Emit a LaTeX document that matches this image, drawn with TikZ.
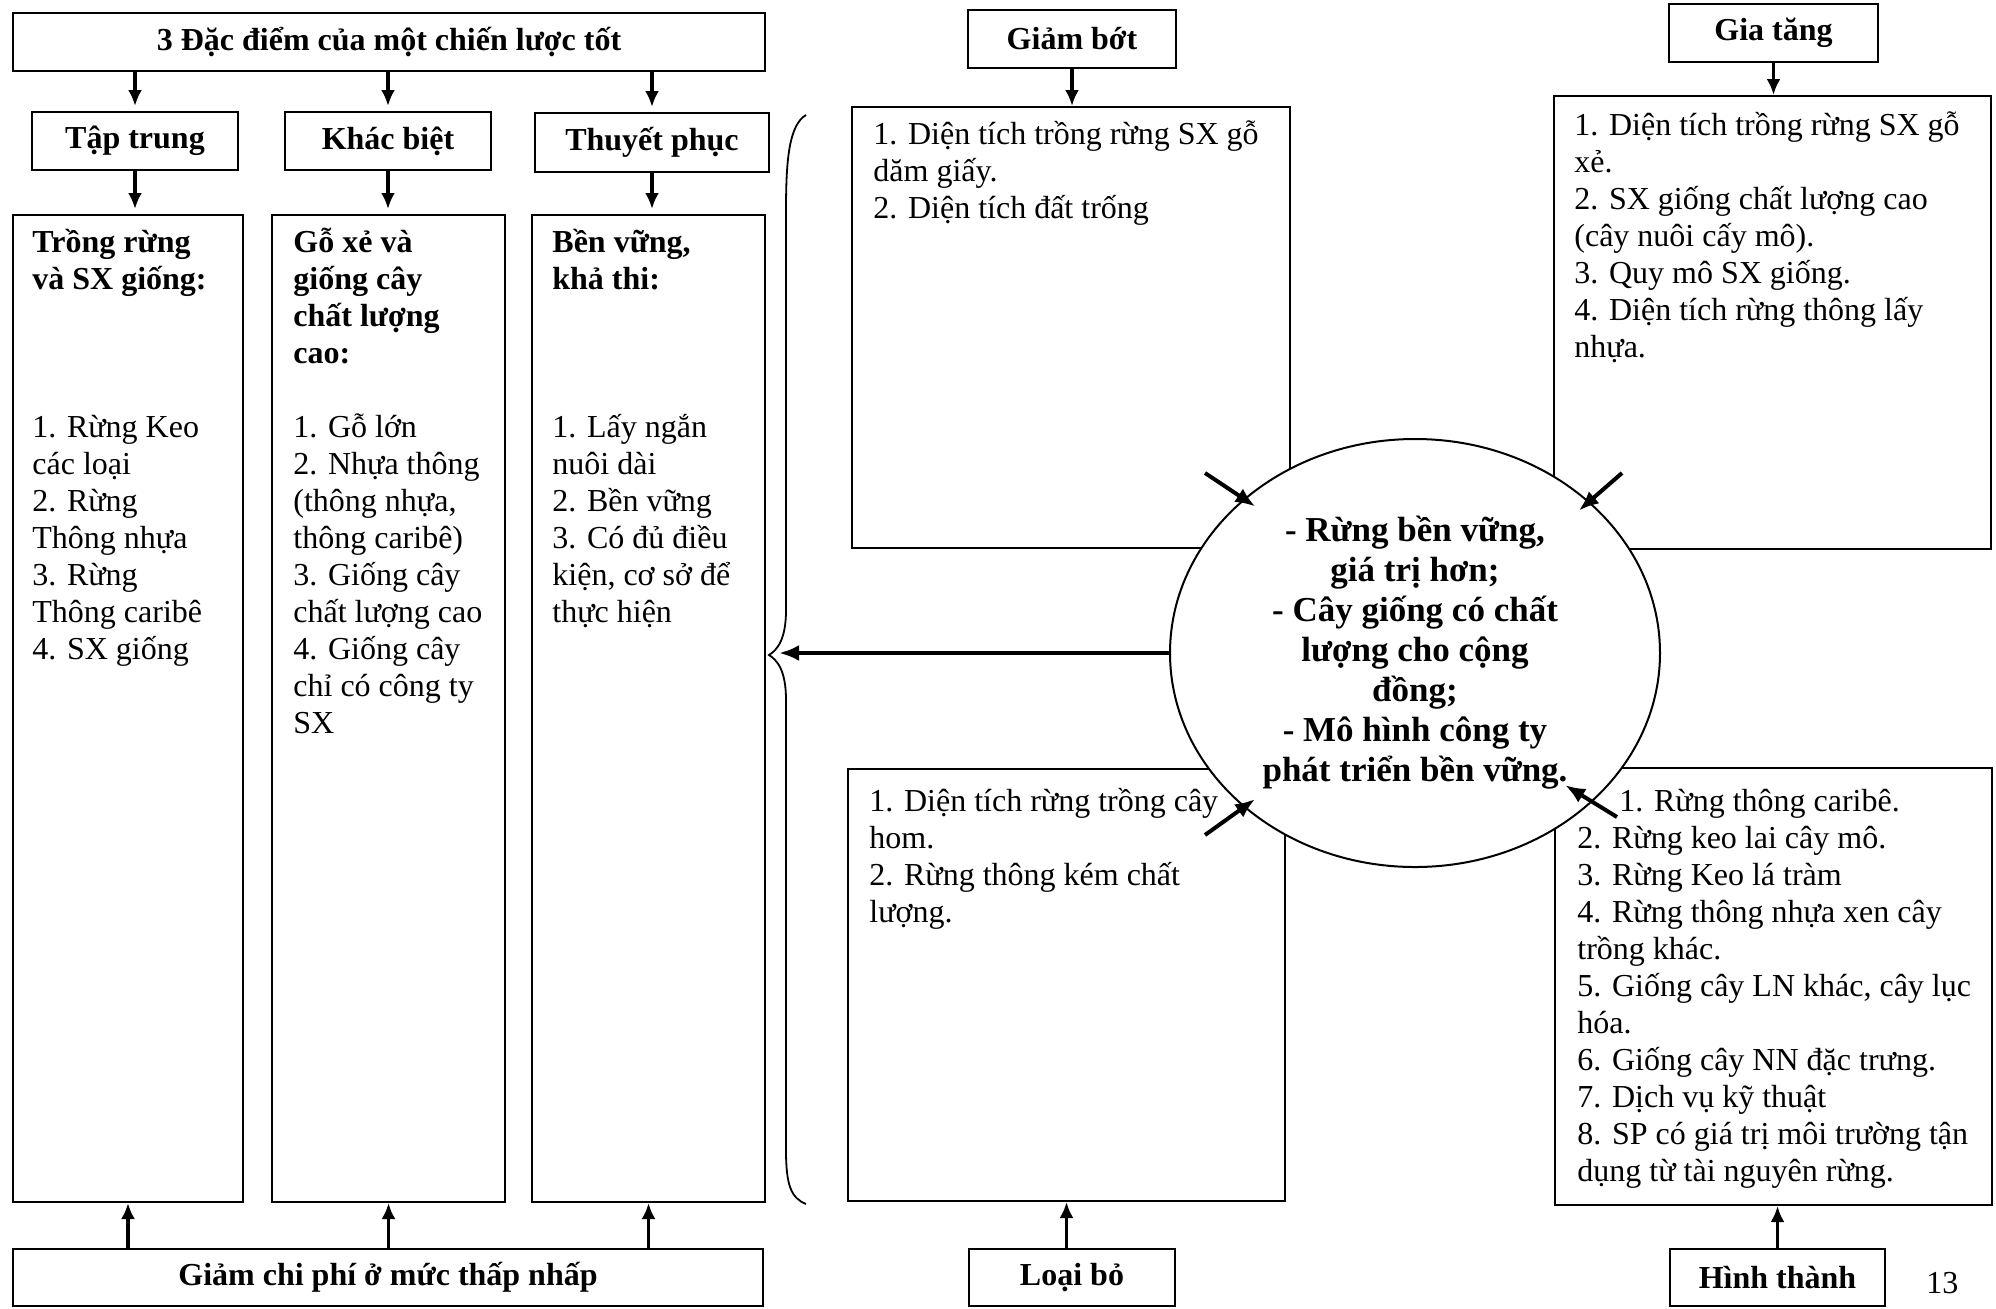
\documentclass[tikz,border=0pt]{standalone}
\usepackage{fontspec}
\setmainfont{Liberation Serif}
\usetikzlibrary{shapes.geometric,arrows.meta}
\newcommand\bodyf{\fontsize{16}{18.5}\selectfont}
\newcommand\ctrf{\fontsize{17.5}{20}\selectfont}
\begin{document}
\begin{tikzpicture}[x=0.5pt,y=-0.5pt,
  box/.style={draw, line width=1pt, inner sep=0pt},
  hd/.style={box, font=\bfseries\bodyf},
  txt/.style={anchor=north west, inner sep=0pt, align=left, font=\bodyf},
  btxt/.style={txt, font=\bfseries\bodyf},
  arr/.style={-{Latex[length=8pt,width=7pt]}, line width=1.7pt},
  bigarr/.style={-{Latex[length=10pt,width=8pt]}, line width=2pt}]
\fill[white] (0,0) rectangle (1996,1308);
\useasboundingbox (0,0) rectangle (1996,1308);

% ---- left part ----
\node[hd, minimum width=376pt, minimum height=29pt] (top) at (389,42) {3 Đặc điểm của một chiến lược tốt};
\node[hd, minimum width=103pt, minimum height=29pt] (h1) at (135,141) {Tập trung};
\node[hd, minimum width=103pt, minimum height=29pt] (h2) at (388,141) {Khác biệt};
\node[hd, minimum width=117pt, minimum height=29.5pt] (h3) at (652,142.5) {Thuyết phục};
\node[box, minimum width=115pt, minimum height=493.5pt] (c1) at (128,708.5) {};
\node[box, minimum width=116.5pt, minimum height=493.5pt] (c2) at (388.5,708.5) {};
\node[box, minimum width=116.5pt, minimum height=493.5pt] (c3) at (648.5,708.5) {};
\node[hd, minimum width=375pt, minimum height=28.5pt] (bot) at (388,1277.5) {Giảm chi phí ở mức thấp nhấp};

\node[btxt] (t1a) at (32,226) {\strut Trồng rừng\\và SX giống:};
\node[txt] (t1b) at (32,411) {\strut 1. Rừng Keo\\các loại\\2. Rừng\\Thông nhựa\\3. Rừng\\Thông caribê\\4. SX giống};
\node[btxt] (t2a) at (293,226) {\strut Gỗ xẻ và\\giống cây\\chất lượng\\cao:};
\node[txt] (t2b) at (293,411) {\strut 1. Gỗ lớn\\2. Nhựa thông\\(thông nhựa,\\thông caribê)\\3. Giống cây\\chất lượng cao\\4. Giống cây\\chỉ có công ty\\SX};
\node[btxt] (t3a) at (552,226) {\strut Bền vững,\\khả thi:};
\node[txt] (t3b) at (552,411) {\strut 1. Lấy ngắn\\nuôi dài\\2. Bền vững\\3. Có đủ điều\\kiện, cơ sở để\\thực hiện};

\draw[arr, shorten >=2.5pt] (h1.north |- top.south) -- (h1.north);
\draw[arr, shorten >=2.5pt] (h2.north |- top.south) -- (h2.north);
\draw[arr, shorten >=2.5pt] (h3.north |- top.south) -- (h3.north);
\draw[arr, shorten >=2.5pt] (h1.south) -- (h1.south |- c1.north);
\draw[arr, shorten >=2.5pt] (h2.south) -- (h2.south |- c2.north);
\draw[arr, shorten >=2.5pt] (h3.south) -- (h3.south |- c3.north);
\draw[arr] (c1.south |- bot.north) -- (c1.south);
\draw[arr] (c2.south |- bot.north) -- (c2.south);
\draw[arr] (c3.south |- bot.north) -- (c3.south);

% brace
\draw[line width=0.9pt] (806,115) .. controls (789,125) and (786,160) .. (786,210)
  -- (786,610) .. controls (786,640) and (777,650) .. (769,655)
  .. controls (777,660) and (786,670) .. (786,700)
  -- (786,1150) .. controls (786,1185) and (791,1198) .. (806,1204);

% ---- right part ----
\node[hd, minimum width=104pt, minimum height=29pt] (gbh) at (1072,39) {Giảm bớt};
\node[box, minimum width=219pt, minimum height=220.5pt] (gb) at (1071,327.5) {};
\node[txt] (gbt) at (873,118) {\strut 1. Diện tích trồng rừng SX gỗ\\dăm giấy.\\2. Diện tích đất trống};

\node[hd, minimum width=104.5pt, minimum height=29pt] (gth) at (1773.5,33) {Gia tăng};
\node[box, minimum width=218.5pt, minimum height=226.5pt] (gt) at (1772.5,322.5) {};
\node[txt] (gtt) at (1574,109) {\strut 1. Diện tích trồng rừng SX gỗ\\xẻ.\\2. SX giống chất lượng cao\\(cây nuôi cấy mô).\\3. Quy mô SX giống.\\4. Diện tích rừng thông lấy\\nhựa.};

\node[box, minimum width=218.5pt, minimum height=216pt] (lb) at (1066.5,985) {};
\node[txt] (lbt) at (869,785) {\strut 1. Diện tích rừng trồng cây\\hom.\\2. Rừng thông kém chất\\lượng.};
\node[hd, minimum width=103pt, minimum height=28.5pt] (lbh) at (1072,1277.5) {Loại bỏ};

\node[box, minimum width=218.5pt, minimum height=218.5pt] (ht) at (1773.5,986.5) {};
\node[txt] (htt) at (1577,785) {\strut\hspace{21pt}1. Rừng thông caribê.\\2. Rừng keo lai cây mô.\\3. Rừng Keo lá tràm\\4. Rừng thông nhựa xen cây\\trồng khác.\\5. Giống cây LN khác, cây lục\\hóa.\\6. Giống cây NN đặc trưng.\\7. Dịch vụ kỹ thuật\\8. SP có giá trị môi trường tận\\dụng từ tài nguyên rừng.};
\node[hd, minimum width=107.5pt, minimum height=28.5pt] (hth) at (1777.5,1277.5) {Hình thành};

\draw[arr] (gbh.south) -- (gbh.south |- gb.north);
\draw[arr] (gth.south) -- (gth.south |- gt.north);
\draw[arr] (lb.south |- lbh.north) -- (lb.south);
\draw[arr] (hth.north) -- (hth.north |- ht.south);

% centre ellipse
\node[ellipse, draw, fill=white, line width=1pt, minimum width=245pt, minimum height=214pt,
  inner sep=0pt, align=center, font=\bfseries\ctrf] (ctr) at (1415,653)
  {- Rừng bền vững,\\giá trị hơn;\\- Cây giống có chất\\lượng cho cộng\\đồng;\\- Mô hình công ty\\phát triển bền vững.};

\coordinate (bt) at (779,653);
\draw[bigarr] (ctr.west) -- (bt);

\coordinate (a1) at (1205,473);
\coordinate (a2) at (1622,473);
\coordinate (a3) at (1205,835);
\coordinate (a4) at (1617,817);
\draw[bigarr, shorten >=-7pt] (a1) -- (ctr.138);
\draw[bigarr, shorten >=-7pt] (a2) -- (ctr.41.7);
\draw[bigarr, shorten >=-7pt] (a3) -- (ctr.222);
\draw[bigarr, shorten >=-16pt] (a4) -- (ctr.320.5);

\node[txt] (pg) at (1926,1272) {13};
\end{tikzpicture}
\end{document}
